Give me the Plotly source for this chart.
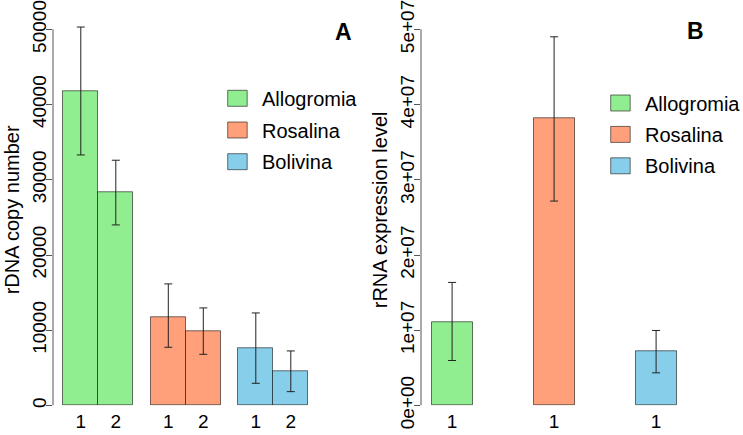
import plotly.graph_objects as go

# ---------------- data ----------------
species = ["Allogromia", "Rosalina", "Bolivina"]
colors = ["#90EE90", "#FFA07A", "#87CEEB"]

rep_labels_a = ["1", "2"]
allogromia_copy = [41800, 28300]
allogromia_copy_hi = [50300, 32600]
allogromia_copy_lo = [33300, 24000]
rosalina_copy = [11700, 9870]
rosalina_copy_hi = [16160, 12970]
rosalina_copy_lo = [7740, 6800]
bolivina_copy = [7600, 4550]
bolivina_copy_hi = [12300, 7250]
bolivina_copy_lo = [2950, 1840]

rep_labels_b = ["1"]
allogromia_expr = [1.112e7]
allogromia_expr_hi = [1.636e7]
allogromia_expr_lo = [0.598e7]
rosalina_expr = [3.816e7]
rosalina_expr_hi = [4.90e7]
rosalina_expr_lo = [2.717e7]
bolivina_expr = [0.718e7]
bolivina_expr_hi = [0.997e7]
bolivina_expr_lo = [0.434e7]

yticks_a = [0, 10000, 20000, 30000, 40000, 50000]
yticks_b = [0, 1e7, 2e7, 3e7, 4e7, 5e7]
yticktext_b = ["0e+00", "1e+07", "2e+07", "3e+07", "4e+07", "5e+07"]

# ---------------- layout constants ----------------
W, H = 743, 435
FONT = "Liberation Sans, Arial, sans-serif"
border = "rgba(0,0,0,0.55)"
errcol = "#222222"
axcol = "#555555"

def px(x):
    return x / W

def py(y):
    return 1 - y / H

copy_vals = [allogromia_copy, rosalina_copy, bolivina_copy]
copy_hi = [allogromia_copy_hi, rosalina_copy_hi, bolivina_copy_hi]
copy_lo = [allogromia_copy_lo, rosalina_copy_lo, bolivina_copy_lo]
expr_vals = [allogromia_expr, rosalina_expr, bolivina_expr]
expr_hi = [allogromia_expr_hi, rosalina_expr_hi, bolivina_expr_hi]
expr_lo = [allogromia_expr_lo, rosalina_expr_lo, bolivina_expr_lo]

fig = go.Figure()

# Panel A: grouped bars (group gap = 0.5 bar)
tickvals_a, ticktext_a = [], []
for g, (name, col) in enumerate(zip(species, colors)):
    vals = copy_vals[g]
    xs = [g * (len(vals) + 0.5) + r + 0.5 for r in range(len(vals))]
    tickvals_a += xs
    ticktext_a += rep_labels_a[:len(vals)]
    fig.add_trace(go.Bar(
        x=xs, y=vals, width=1, name=name, showlegend=False,
        marker=dict(color=col, line=dict(color=border, width=1)),
        error_y=dict(type="data", symmetric=False,
                     array=[h - v for h, v in zip(copy_hi[g], vals)],
                     arrayminus=[v - l for l, v in zip(copy_lo[g], vals)],
                     color=errcol, thickness=1, width=4),
        xaxis="x", yaxis="y"))

# Panel B: bars with gap 1.5
tickvals_b, ticktext_b = [], []
for g, (name, col) in enumerate(zip(species, colors)):
    vals = expr_vals[g]
    xs = [g * 2.5 + r + 0.5 for r in range(len(vals))]
    tickvals_b += xs
    ticktext_b += rep_labels_b[:len(vals)]
    fig.add_trace(go.Bar(
        x=xs, y=vals, width=1, name=name, showlegend=False,
        marker=dict(color=col, line=dict(color=border, width=1)),
        error_y=dict(type="data", symmetric=False,
                     array=[h - v for h, v in zip(expr_hi[g], vals)],
                     arrayminus=[v - l for l, v in zip(expr_lo[g], vals)],
                     color=errcol, thickness=1, width=4),
        xaxis="x2", yaxis="y2"))

# axis geometry (pixels)
y0_px, ytop_px = 405.5, 29.3          # y=0 and y=top tick
a_left, a_bar0, a_unit, a_right = 53, 63.3, 35.0, 360
b_left, b_bar0, b_unit, b_right = 421, 431.7, 40.8, 738
top_frac = 1.04
ydom_top_px = y0_px - (y0_px - ytop_px) * top_frac

tickfont = dict(family=FONT, size=19, color="black")

common_y = dict(tickangle=-90, ticks="outside", ticklen=6, tickcolor=axcol,
                showgrid=False, zeroline=False, showline=False, automargin=False,
                ticklabeloverflow="allow", ticklabelstandoff=-8, tickfont=tickfont)
common_x = dict(ticks="", showgrid=False, zeroline=False, showline=False,
                automargin=False, ticklabeloverflow="allow", ticklabelstandoff=2,
                tickfont=tickfont)

fig.update_layout(
    width=W, height=H, margin=dict(l=0, r=0, t=0, b=0),
    paper_bgcolor="white", plot_bgcolor="white",
    barmode="overlay", bargap=0,
    font=dict(family=FONT, color="black"),
    xaxis=dict(domain=[px(a_left), px(a_right)],
               range=[(a_left - a_bar0) / a_unit, (a_right - a_bar0) / a_unit],
               tickvals=tickvals_a, ticktext=ticktext_a, anchor="y", **common_x),
    yaxis=dict(domain=[py(y0_px), py(ydom_top_px)],
               range=[0, yticks_a[-1] * top_frac],
               tickvals=yticks_a, ticktext=[str(v) for v in yticks_a], anchor="x",
               title=dict(text="rDNA copy number", font=dict(family=FONT, size=20), standoff=4),
               **common_y),
    xaxis2=dict(domain=[px(b_left), px(b_right)],
                range=[(b_left - b_bar0) / b_unit, (b_right - b_bar0) / b_unit],
                tickvals=tickvals_b, ticktext=ticktext_b, anchor="y2", **common_x),
    yaxis2=dict(domain=[py(y0_px), py(ydom_top_px)],
                range=[0, yticks_b[-1] * top_frac],
                tickvals=yticks_b, ticktext=yticktext_b, anchor="x2",
                title=dict(text="rRNA expression level", font=dict(family=FONT, size=20), standoff=4),
                **common_y),
)

shapes, annots = [], []
# axis lines spanning only the tick range (R style)
shapes.append(dict(type="line", xref="paper", yref="y", x0=px(a_left), x1=px(a_left),
                   y0=yticks_a[0], y1=yticks_a[-1], line=dict(color=axcol, width=1)))
shapes.append(dict(type="line", xref="paper", yref="y2", x0=px(b_left), x1=px(b_left),
                   y0=yticks_b[0], y1=yticks_b[-1], line=dict(color=axcol, width=1)))

# legends
def legend(x_box, y_top0, step):
    for i, (name, col) in enumerate(zip(species, colors)):
        yt = y_top0 + i * step
        shapes.append(dict(type="rect", xref="paper", yref="paper",
                           x0=px(x_box), x1=px(x_box + 19.5), y0=py(yt + 16), y1=py(yt),
                           fillcolor=col, line=dict(color=border, width=1)))
        annots.append(dict(text=name, xref="paper", yref="paper", x=px(x_box + 32),
                           y=py(yt + 8.5), xanchor="left", yanchor="middle", showarrow=False,
                           font=dict(family=FONT, size=20, color="black")))

legend(227.7, 90.3, 31.7)
legend(610.7, 95.0, 31.4)

annots.append(dict(text="<b>A</b>", xref="paper", yref="paper", x=px(343), y=py(32.5),
                   xanchor="center", yanchor="middle", showarrow=False,
                   font=dict(family=FONT, size=23, color="black")))
annots.append(dict(text="<b>B</b>", xref="paper", yref="paper", x=px(695.5), y=py(31),
                   xanchor="center", yanchor="middle", showarrow=False,
                   font=dict(family=FONT, size=23, color="black")))

fig.update_layout(shapes=shapes, annotations=annots)
fig.write_html("out.html", config={"displayModeBar": False},
               post_script="document.body.style.margin='0';document.body.style.overflow='hidden';")
